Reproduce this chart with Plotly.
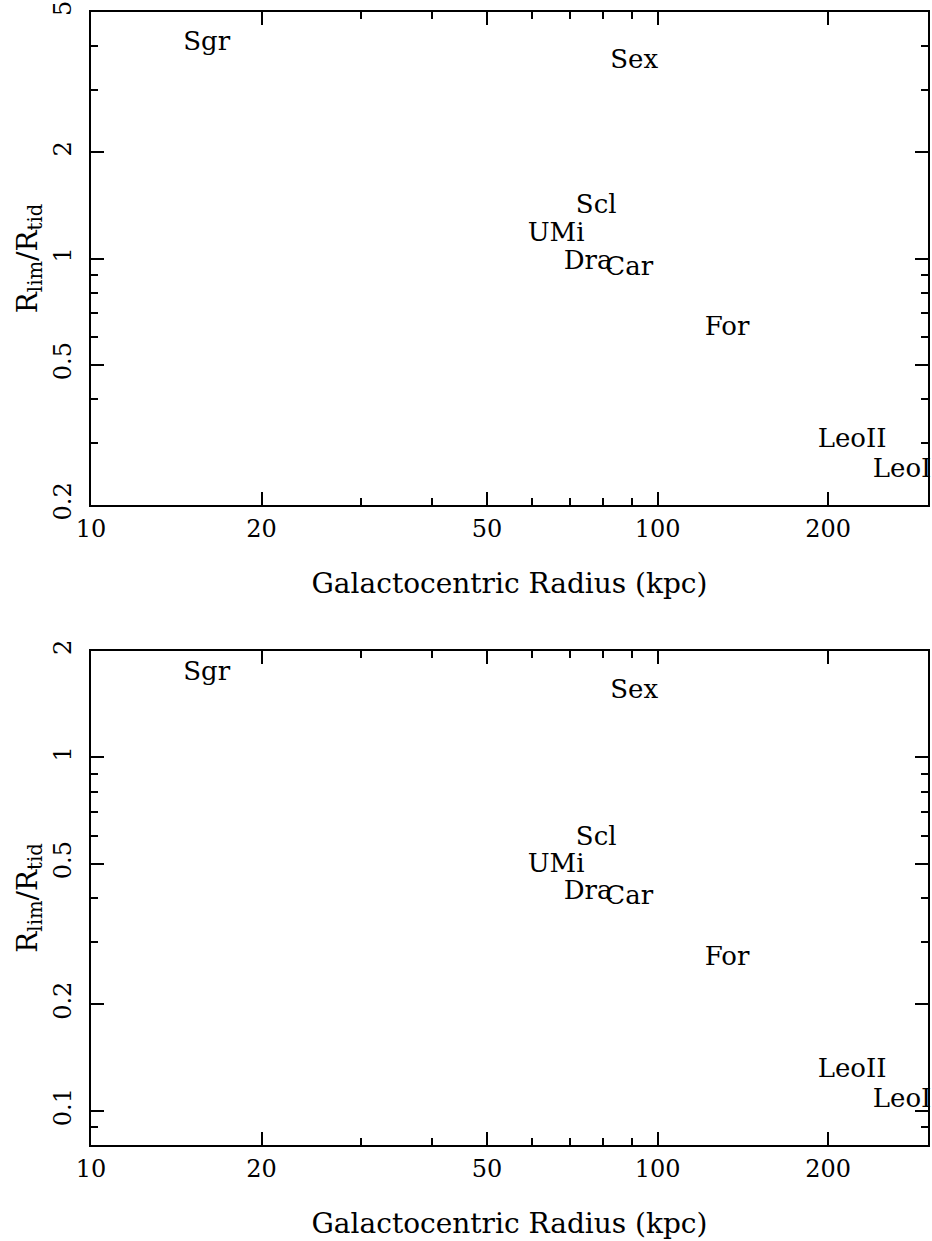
import math
import plotly.graph_objects as go

# ---- data ----
names = ["Sgr", "Sex", "Scl", "UMi", "Dra", "Car", "For", "LeoII", "LeoI"]
r_gc = [16.0, 90.9, 77.9, 66.2, 75.4, 89.1, 132.6, 220.4, 270.0]
ratio_top = [4.08, 3.62, 1.40, 1.17, 0.977, 0.939, 0.635, 0.304, 0.250]
ratio_bottom = [1.733, 1.532, 0.590, 0.495, 0.415, 0.402, 0.2705, 0.1299, 0.1069]

x_major = [10, 20, 50, 100, 200]
x_major_text = ["10", "20", "50", "100", "200"]
x_minor = [30, 40, 60, 70, 80, 90, 300]
y_top_major = [0.2, 0.5, 1, 2, 5]
y_top_major_text = ["0.2", "0.5", "1", "2", "5"]
y_top_minor = [0.3, 0.4, 0.6, 0.7, 0.8, 0.9, 3, 4]
y_bot_major = [0.1, 0.2, 0.5, 1, 2]
y_bot_major_text = ["0.1", "0.2", "0.5", "1", "2"]
y_bot_minor = [0.09, 0.3, 0.4, 0.6, 0.7, 0.8, 0.9]

x_range = [10, 300]
y_top_range = [0.2, 5]
y_bot_range = [0.08, 2]

x_title = "Galactocentric Radius (kpc)"
y_title = "R<sub>lim</sub>/R<sub>tid</sub>"

FONT = "DejaVu Serif"
W, H = 932, 1241
ML, MR, MT, MB = 91, 4, 12, 96
PH = H - MT - MB

fig = go.Figure()
for yv, xa, ya in [(ratio_top, "x", "y"), (ratio_bottom, "x2", "y2")]:
    fig.add_trace(go.Scatter(x=r_gc, y=yv, mode="text", text=names,
                             textposition="middle center",
                             textfont=dict(family=FONT, size=26, color="black"),
                             cliponaxis=False,
                             xaxis=xa, yaxis=ya, showlegend=False, hoverinfo="skip"))

top_dom = [(1145 - 505) / PH, 1.0]
bot_dom = [0.0, (1145 - 651) / PH]


def xaxis(anchor):
    return dict(
        type="log", range=[math.log10(x_range[0]), math.log10(x_range[1])],
        domain=[0, 1], anchor=anchor, automargin=False,
        showline=True, linecolor="black", linewidth=2, mirror="ticks",
        ticks="inside", ticklen=13, tickwidth=1.5, tickcolor="black",
        tickmode="array", tickvals=x_major, ticktext=x_major_text,
        tickfont=dict(family=FONT, size=24, color="black"),
        ticklabelstandoff=1,
        minor=dict(ticks="inside", ticklen=7, tickwidth=1.5, tickcolor="black",
                   tickmode="array", tickvals=x_minor, showgrid=False),
        showgrid=False, zeroline=False,
        title=dict(text=x_title, font=dict(family=FONT, size=28, color="black"),
                   standoff=32),
    )


def yaxis(anchor, dom, rng, major, major_text, minor):
    return dict(
        type="log", range=[math.log10(rng[0]), math.log10(rng[1])],
        domain=dom, anchor=anchor, automargin=False,
        showline=True, linecolor="black", linewidth=2, mirror="ticks",
        ticks="inside", ticklen=13, tickwidth=1.5, tickcolor="black",
        tickmode="array", tickvals=major, ticktext=major_text, tickangle=-90,
        tickfont=dict(family=FONT, size=24, color="black"),
        ticklabelstandoff=8,
        minor=dict(ticks="inside", ticklen=7, tickwidth=1.5, tickcolor="black",
                   tickmode="array", tickvals=minor, showgrid=False),
        showgrid=False, zeroline=False,
        title=dict(text=y_title, font=dict(family=FONT, size=28, color="black"),
                   standoff=4),
    )


fig.update_layout(
    width=W, height=H,
    margin=dict(l=ML, r=MR, t=MT, b=MB),
    paper_bgcolor="white", plot_bgcolor="white",
    xaxis=xaxis("y"),
    yaxis=yaxis("x", top_dom, y_top_range, y_top_major, y_top_major_text, y_top_minor),
    xaxis2=xaxis("y2"),
    yaxis2=yaxis("x2", bot_dom, y_bot_range, y_bot_major, y_bot_major_text, y_bot_minor),
    showlegend=False,
)

fig.write_html(
    "out.html",
    config={"displayModeBar": False},
    post_script="document.body.style.margin='0';document.body.style.overflow='hidden';",
)
